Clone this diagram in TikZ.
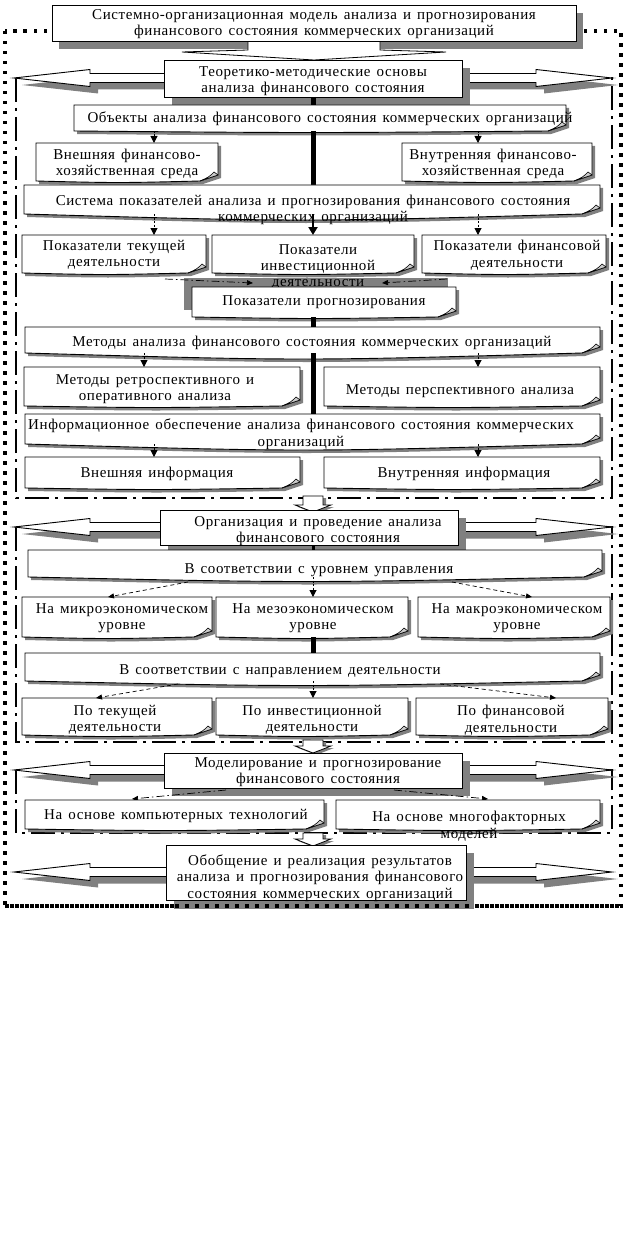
\documentclass[tikz,border=0pt]{standalone}
\usepackage{fontspec}
\setmainfont[LetterSpace=4,WordSpace=1.4]{Liberation Serif}
\usetikzlibrary{arrows.meta,calc}
\tikzset{
  shd/.style={fill=black!50},
  bx/.style={draw=black,line width=0.9pt,fill=white},
  txt/.style={inner sep=0pt,align=center,yshift=-1.2pt,font=\fontsize{15}{16.2}\selectfont},
  spine/.style={line width=5pt},
  sarr/.style={line width=1pt,dash pattern=on 2pt off 1.5pt,-{Triangle[length=7pt,width=7pt]}},
  carr/.style={line width=2.5pt,-{Triangle[length=8pt,width=9pt]}},
  darr/.style={line width=0.7pt,dash pattern=on 4pt off 3pt,-{Triangle[length=6pt,width=5pt]}},
  ddarr/.style={line width=0.7pt,dash pattern=on 8pt off 3pt on 1.5pt off 3pt,-{Triangle[length=6pt,width=5pt]}},
  outerdot/.style={line width=3.5pt,dash pattern=on 3.5pt off 6.5pt},
  secline/.style={line width=2.6pt,dash pattern=on 24pt off 6pt on 3pt off 6pt},
}
% folded-corner box: name, x1, y1, x2, y2, sag
\newcommand\dbox[6]{%
  \pgfmathsetmacro\xfo{#4-18}\pgfmathsetmacro\yfo{#5-6}%
  \pgfmathsetmacro\xmi{(#2+#4-18)/2}\pgfmathsetmacro\ysg{#5+2*#6}%
  \pgfmathsetmacro\bw{#4-#2}\pgfmathsetmacro\bh{#5-#3}%
  \fill[shd,shift={(3,3)}] (#2,#3) -- (#4,#3) -- (#4,\yfo) -- (\xfo,#5) .. controls (\xmi,\ysg) .. (#2,#5) -- cycle;
  \draw[bx] (#2,#3) -- (#4,#3) -- (#4,\yfo) -- (\xfo,#5) .. controls (\xmi,\ysg) .. (#2,#5) -- cycle;
  \draw[line width=0.6pt,fill=black!20] (\xfo,#5) .. controls ({#4-9},{#5-4}) .. ({#4-4},{#5-9}) -- (#4,\yfo) -- cycle;
  \path (#2,#3) -- (#4,#5) node[midway,inner sep=0,outer sep=0,minimum width=\bw pt,minimum height=\bh pt] (#1) {};
}
% plain box with shadow: name, x1,y1,x2,y2, shadow dx, dy
\newcommand\pbox[7]{%
  \pgfmathsetmacro\bw{#4-#2}\pgfmathsetmacro\bh{#5-#3}%
  \fill[shd,shift={(#6,#7)}] (#2,#3) rectangle (#4,#5);
  \draw[bx] (#2,#3) rectangle (#4,#5);
  \path (#2,#3) -- (#4,#5) node[midway,inner sep=0,outer sep=0,minimum width=\bw pt,minimum height=\bh pt] (#1) {};
}
% horizontal double block arrow centred at y
\newcommand\harrow[1]{%
  \pgfmathsetmacro\ha{#1-8.5}\pgfmathsetmacro\hb{#1-4.5}\pgfmathsetmacro\hc{#1+4.5}\pgfmathsetmacro\hd{#1+8.5}%
  \fill[shd,shift={(8,7)}] (14,#1) -- (90,\ha) -- (90,\hb) -- (536,\hb) -- (536,\ha) -- (610,#1) -- (536,\hd) -- (536,\hc) -- (90,\hc) -- (90,\hd) -- cycle;
  \draw[bx] (14,#1) -- (90,\ha) -- (90,\hb) -- (536,\hb) -- (536,\ha) -- (612,#1) -- (536,\hd) -- (536,\hc) -- (90,\hc) -- (90,\hd) -- cycle;
}
% small down block arrow from y1 to y2
\newcommand\varrow[2]{%
  \pgfmathsetmacro\vm{#2-7}%
  \fill[shd,shift={(3,2)}] (303,#1) -- (323,#1) -- (323,\vm) -- (331,\vm) -- (313,#2) -- (295,\vm) -- (303,\vm) -- cycle;
  \draw[bx,line width=0.8pt] (303,#1) -- (323,#1) -- (323,\vm) -- (331,\vm) -- (313,#2) -- (295,\vm) -- (303,\vm) -- cycle;
}
\begin{document}
\begin{tikzpicture}[x=1pt,y=-1pt]
\useasboundingbox (0,0) rectangle (626,1260);
% column coordinates
\coordinate (c96) at (96,0);
\coordinate (c108) at (108,0);
\coordinate (c144) at (144,0);
\coordinate (c154) at (154,0);
\coordinate (c313) at (313,0);
\coordinate (c478) at (478,0);
\coordinate (c532) at (532,0);
\coordinate (c556) at (556,0);

% frames
\draw[outerdot] (5,31) rectangle (621,906);
\draw[secline] (16,78) rectangle (612,498);
\draw[secline] (16,527) rectangle (612,742);
\draw[secline] (16,770) rectangle (612,833);

% title
\fill[shd] (59,13) rectangle (583,49);
\filldraw[fill=white,draw=black,line width=0.8pt] (248,41) -- (248,50) -- (182,52) -- (314,60) -- (446,52) -- (380,50) -- (380,41);
\draw[bx] (52,5) rectangle (576,41);
\path (52,5) -- (576,41) node[midway,inner sep=0,minimum width=524pt,minimum height=36pt] (title) {};
\node[txt] (t-title) at (314,23) {Системно-организационная модель анализа и прогнозирования\\финансового состояния коммерческих организаций};

% section 1
\harrow{78}
\pbox{teor}{164}{60}{462}{97}{8}{8}
\node[txt] (t-teor) at (313,80) {Теоретико-методические основы\\анализа финансового состояния};
\dbox{obj}{74}{105}{566}{131}{1}
\draw[spine] (teor.south -| c313) -- (obj.north -| c313);
\node[txt] (t-obj) at (330,118) {Объекты анализа финансового состояния коммерческих организаций};
\draw[spine] (obj.south -| c313) -- (313,185);
\dbox{vnesh}{36}{143}{218}{181}{1}
\node[txt] (t-vnesh) at (127,163) {Внешняя финансово-\\хозяйственная среда};
\dbox{vnutr}{402}{143}{592}{181}{1}
\node[txt] (t-vnutr) at (493,163) {Внутренняя финансово-\\хозяйственная среда};
\draw[sarr] (obj.south -| c154) -- (vnesh.north -| c154);
\draw[sarr] (obj.south -| c478) -- (vnutr.north -| c478);
\dbox{sys}{24}{185}{600}{214}{4}
\node[txt] (t-sys) at (313,209) {Система показателей анализа и прогнозирования финансового состояния\\коммерческих организаций};
\dbox{tek}{22}{235}{206}{273}{1}
\node[txt] (t-tek) at (114,254) {Показатели текущей\\деятельности};
\dbox{inv}{212}{235}{414}{273}{1}
\dbox{fin}{422}{235}{606}{273}{1}
\node[txt] (t-fin) at (517,254) {Показатели финансовой\\деятельности};
\draw[sarr] (sys.south -| c154) -- (tek.north -| c154);
\draw[carr] (sys.south -| c313) -- (inv.north -| c313);
\draw[sarr] (sys.south -| c478) -- (fin.north -| c478);
\fill[shd] (184,278) rectangle (448,310);
\node[txt] (t-inv) at (318,266) {Показатели\\инвестиционной\\деятельности};
\coordinate (pl1) at (165,279);
\coordinate (pl2) at (253,283);
\coordinate (pr1) at (447,279);
\coordinate (pr2) at (382,283);
\draw[ddarr] (pl1) -- (pl2);
\draw[ddarr] (pr1) -- (pr2);
\dbox{progn}{192}{287}{456}{317}{1}
\node[txt] (t-progn) at (324,301) {Показатели прогнозирования};
\dbox{met}{25}{327}{600}{353}{4}
\draw[spine] (progn.south -| c313) -- (met.north -| c313);
\node[txt] (t-met) at (312,342) {Методы анализа финансового состояния коммерческих организаций};
\draw[spine] (met.south -| c313) -- (313,414);
\dbox{retro}{24}{367}{300}{406}{1}
\node[txt] (t-retro) at (155,388) {Методы ретроспективного и\\оперативного анализа};
\dbox{persp}{324}{367}{600}{406}{1}
\node[txt] (t-persp) at (460,390) {Методы перспективного анализа};
\draw[sarr] (met.south -| c144) -- (retro.north -| c144);
\draw[sarr] (met.south -| c478) -- (persp.north -| c478);
\dbox{info}{25}{414}{600}{444}{4}
\node[txt] (t-info) at (301,433) {Информационное обеспечение анализа финансового состояния коммерческих\\организаций};
\dbox{vinf}{25}{457}{300}{488}{1}
\node[txt] (t-vinf) at (157,473) {Внешняя информация};
\dbox{inf}{324}{457}{600}{488}{1}
\node[txt] (t-inf) at (464,473) {Внутренняя информация};
\draw[sarr] (info.south -| c154) -- (vinf.north -| c154);
\draw[sarr] (info.south -| c478) -- (inf.north -| c478);
\varrow{496}{512}

% section 2
\harrow{527}
\pbox{org}{160}{510}{458}{545}{8}{8}
\node[txt] (t-org) at (318,530) {Организация и проведение анализа\\финансового состояния};
\dbox{lev}{28}{550}{602}{577}{3}
\draw[line width=3pt] (org.south -| c313) -- (lev.north -| c313);
\node[txt] (t-lev) at (319,569) {В соответствии с уровнем управления};
\dbox{mikro}{22}{597}{212}{637}{1}
\node[txt] (t-mikro) at (122,617) {На микроэкономическом\\уровне};
\dbox{mezo}{216}{597}{408}{637}{1}
\node[txt] (t-mezo) at (313,617) {На мезоэкономическом\\уровне};
\dbox{makro}{418}{597}{610}{637}{1}
\node[txt] (t-makro) at (517,617) {На макроэкономическом\\уровне};
\coordinate (l1) at (188,582);
\coordinate (l3) at (452,582);
\draw[darr] (l1) -- (mikro.north -| c108);
\draw[sarr] (lev.south -| c313) -- (mezo.north -| c313);
\draw[darr] (l3) -- (makro.north -| c532);
\dbox{napr}{25}{653}{600}{681}{3}
\draw[spine] (mezo.south -| c313) -- (napr.north -| c313);
\node[txt] (t-napr) at (280,670) {В соответствии с направлением деятельности};
\dbox{pt}{22}{698}{212}{735}{1}
\node[txt] (t-pt) at (115,719) {По текущей\\деятельности};
\dbox{pi}{216}{698}{408}{735}{1}
\node[txt] (t-pi) at (312,719) {По инвестиционной\\деятельности};
\dbox{pf}{416}{698}{608}{735}{1}
\node[txt] (t-pf) at (511,719) {По финансовой\\деятельности};
\coordinate (n1) at (178,684);
\coordinate (n3) at (440,684);
\draw[darr] (n1) -- (pt.north -| c96);
\draw[sarr] (napr.south -| c313) -- (pi.north -| c313);
\draw[darr] (n3) -- (pf.north -| c556);
\varrow{740}{753}

% section 3
\harrow{770}
\pbox{mod}{164}{753}{462}{788}{8}{8}
\node[txt] (t-mod) at (318,771) {Моделирование и прогнозирование\\финансового состояния};
\coordinate (m1) at (226,790);
\coordinate (m2) at (132,799);
\coordinate (m3) at (394,790);
\coordinate (m4) at (488,799);
\draw[ddarr] (m1) -- (m2);
\draw[ddarr] (m3) -- (m4);
\dbox{comp}{25}{800}{324}{829}{1}
\node[txt] (t-comp) at (176,815) {На основе компьютерных технологий};
\dbox{mnog}{336}{800}{600}{829}{1}
\node[txt] (t-mnog) at (469,825) {На основе многофакторных\\моделей};
\varrow{833}{846}

% section 4
\harrow{872}
\fill[shd] (174,853) rectangle (474,909);
\draw[outerdot] (5,906) -- (621,906);
\draw[bx] (166,845) rectangle (466,900);
\path (166,845) -- (466,900) node[midway,inner sep=0,minimum width=300pt,minimum height=55pt] (gen) {};
\node[txt] (t-gen) at (320,877) {Обобщение и реализация результатов\\анализа и прогнозирования финансового\\состояния коммерческих организаций};
\end{tikzpicture}
\end{document}
